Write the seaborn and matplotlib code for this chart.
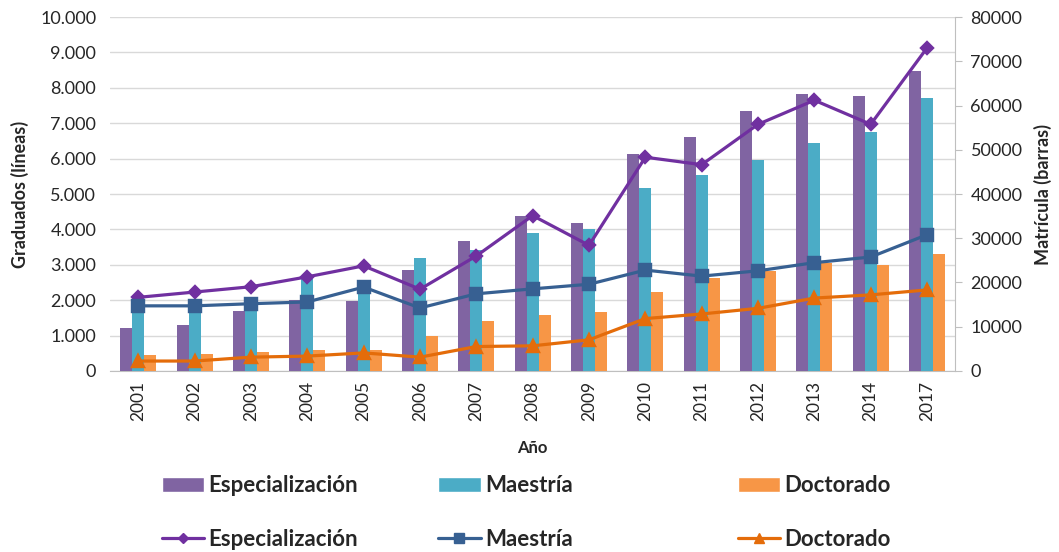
import matplotlib
matplotlib.use("Agg")
import matplotlib.pyplot as plt
import matplotlib.ticker as mticker
from matplotlib.patches import Patch
from matplotlib.lines import Line2D
import pandas as pd
import seaborn as sns

# data
years = ["2001", "2002", "2003", "2004", "2005", "2006", "2007", "2008",
         "2009", "2010", "2011", "2012", "2013", "2014", "2017"]

# Matrícula (barras, eje derecho)
mat_esp = [9700, 10400, 13600, 16000, 15900, 22900, 29300, 35100,
           33500, 49000, 53000, 58800, 62700, 62100, 67800]
mat_mae = [15000, 15000, 16400, 20700, 19600, 25500, 27400, 31200,
           32200, 41300, 44200, 47700, 51600, 54000, 61600]
mat_doc = [3500, 3800, 4300, 4800, 4800, 7800, 11300, 12600,
           13400, 17800, 21100, 22700, 24500, 23900, 26500]

# Graduados (líneas, eje izquierdo)
grad_esp = [2080, 2230, 2380, 2660, 2970, 2310, 3250, 4390,
            3550, 6040, 5830, 6970, 7650, 6970, 9130]
grad_mae = [1840, 1840, 1900, 1950, 2370, 1780, 2180, 2320,
            2450, 2850, 2680, 2830, 3060, 3220, 3850]
grad_doc = [280, 280, 390, 420, 510, 390, 690, 710,
            880, 1480, 1610, 1770, 2060, 2150, 2290]

series = ["Especialización", "Maestría", "Doctorado"]
bar_colors = ["#8064A2", "#4BACC6", "#F79646"]
line_colors = ["#7030A0", "#376092", "#E46C0A"]
markers = ["D", "s", "^"]
marker_sizes = [6.5, 8, 8.5]

sns.set_style("white")
plt.rcParams["font.family"] = ["Lato", "DejaVu Sans"]

bars = pd.DataFrame({
    "Año": years * 3,
    "valor": mat_esp + mat_mae + mat_doc,
    "serie": [s for s in series for _ in years],
})
lines = pd.DataFrame({
    "Año": years * 3,
    "valor": grad_esp + grad_mae + grad_doc,
    "serie": [s for s in series for _ in years],
})

fig = plt.figure(figsize=(10.59, 5.52), dpi=100)
ax = fig.add_axes([0.104, 0.328, 0.798, 0.641])
ax2 = ax.twinx()
ax3 = ax.twinx()

# bars on the right axis
sns.barplot(data=bars, x="Año", y="valor", hue="serie", order=years,
            hue_order=series, palette=bar_colors, width=0.64, gap=0,
            saturation=1, linewidth=0, edgecolor="none", ax=ax2, legend=False)
ax2.set_ylim(0, 80000)
ax2.yaxis.set_major_locator(mticker.MultipleLocator(10000))
ax2.set_ylabel("Matrícula (barras)", fontsize=13, fontweight="bold", labelpad=8)
ax2.tick_params(axis="y", labelsize=13, length=5, color="#BFBFBF", pad=6)
ax2.set_xlabel("")

# lines on the left scale (drawn on a third overlay axis so they sit over the bars)
sns.pointplot(data=lines, x="Año", y="valor", hue="serie", order=years,
              hue_order=series, palette=line_colors, markers=markers,
              errorbar=None, markersize=8, linewidth=2.3, ax=ax3, legend=False)
for ln, ms in zip(ax3.lines, marker_sizes):
    ln.set_markersize(ms)
ax3.set_ylim(0, 10000)
ax3.yaxis.set_visible(False)
ax3.set_xlabel("")

ax.set_ylim(0, 10000)
ax.set_xlim(-0.5, len(years) - 0.5)
ax.yaxis.set_major_locator(mticker.MultipleLocator(1000))
ax.yaxis.set_major_formatter(mticker.FuncFormatter(lambda v, p: f"{int(v):,}".replace(",", ".")))
ax.grid(axis="y", color="#D9D9D9", linewidth=1)
ax.set_ylabel("Graduados (líneas)", fontsize=13, fontweight="bold", labelpad=8)
ax.tick_params(axis="y", labelsize=13, length=0, pad=10)
ax.set_xticks(range(len(years)))
ax.set_xticklabels(years, rotation=90, fontsize=12.5)
ax.tick_params(axis="x", length=0, pad=7)
ax.set_xlabel("Año", fontsize=12, fontweight="bold", labelpad=14)

for a in (ax, ax2, ax3):
    for side in ("top", "left", "right"):
        a.spines[side].set_visible(False)
    a.spines["bottom"].set_color("#BFBFBF")
ax2.spines["right"].set_visible(True)
ax2.spines["right"].set_color("#BFBFBF")
ax3.spines["bottom"].set_visible(False)
ax2.spines["bottom"].set_visible(False)

# one small legend per series: bar entry above, line entry below
legend_x = [0.134, 0.395, 0.678]
for i, s in enumerate(series):
    h = [Patch(facecolor=bar_colors[i], label=s),
         Line2D([], [], color=line_colors[i], marker=markers[i], linewidth=2.3,
                markersize=marker_sizes[i] - 1.5, label=s)]
    fig.legend(handles=h, loc="upper left", bbox_to_anchor=(legend_x[i], 0.175),
               frameon=False, prop={"size": 16, "weight": "bold"},
               labelspacing=1.45, handlelength=1.9, handletextpad=0.2)

fig.savefig("out.png", dpi=100)
